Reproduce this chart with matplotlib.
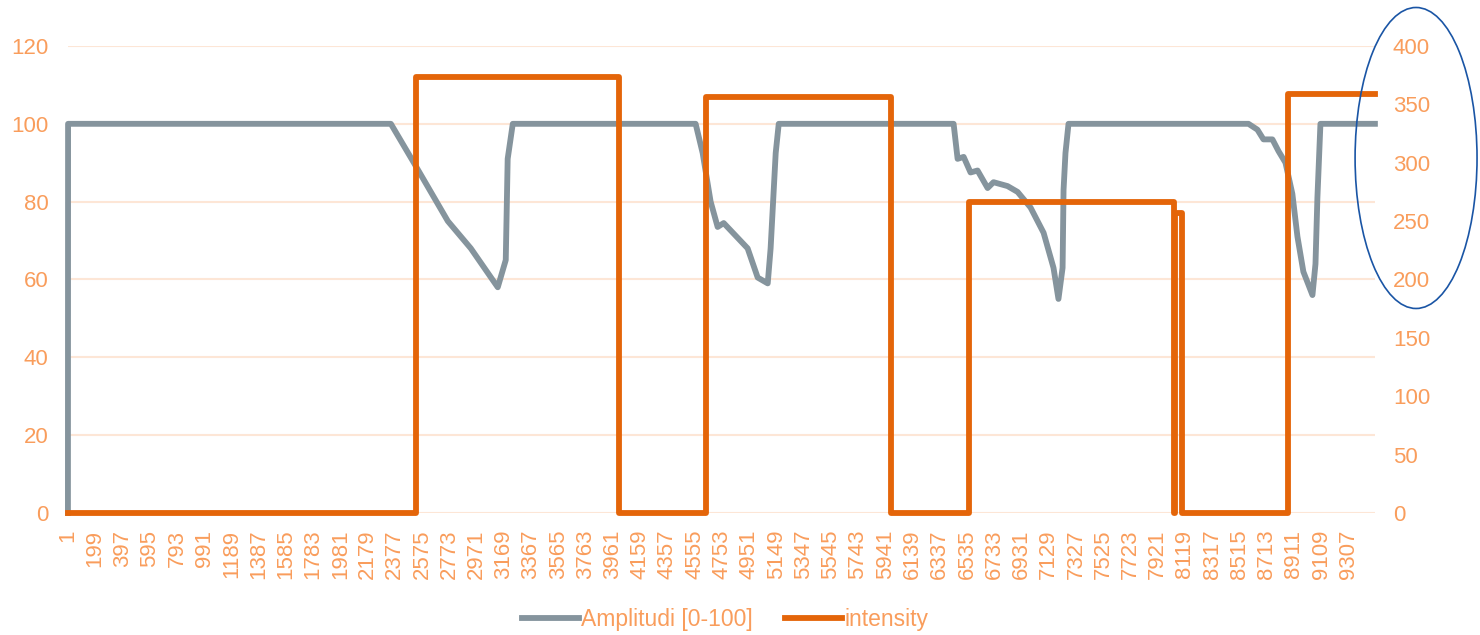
import matplotlib
matplotlib.use('Agg')
import matplotlib.pyplot as plt
import numpy as np
from matplotlib.patches import Ellipse

plt.rcParams['font.family'] = ['Liberation Sans', 'DejaVu Sans']

# sample index of the series (categories 1..9500)
n_points = 9500
tick_step = 198

# Amplitudi [0-100] - breakpoints
amp_x = [1, 2, 2348, 2515, 2762, 2929, 3125, 3183, 3197, 3234,
         4563, 4614, 4672, 4723, 4767, 4941, 5014, 5087, 5108, 5145, 5167,
         6438, 6467, 6511, 6561, 6612, 6685, 6728, 6830, 6903, 6997, 7092,
         7164, 7200, 7230, 7237, 7251, 7273,
         8581, 8646, 8690, 8755, 8799, 8850, 8900, 8937, 8980, 9046, 9068,
         9082, 9104, 9500]
amp_y = [0, 100, 100, 90, 75, 68, 58, 65, 91, 100,
         100, 92.5, 80, 73.5, 74.5, 68, 60.5, 59, 68, 92.5, 100,
         100, 91, 91.5, 87.5, 88, 83.5, 85, 84, 82.5, 78.5, 72,
         63, 55, 63, 83, 92.5, 100,
         100, 98.5, 96, 96, 93, 90, 82, 71, 62, 56, 64,
         81, 100, 100]

# intensity - step changes
int_x = [1, 2529, 4004, 4636, 5980, 6547, 8043, 8044, 8101, 8871, 9500]
int_y = [0, 373, 0, 356, 0, 266, 0, 257, 0, 359, 359]

grey = '#85949D'
orange = '#E46509'
label_col = '#F99D5C'
grid_col = '#FDE6D6'

fig = plt.figure(figsize=(14.8, 6.35), dpi=100)
ax = fig.add_axes([0.0459, 0.1921, 0.929 - 0.0459, 0.9276 - 0.1921])
ax2 = ax.twinx()

ax.plot(amp_x, amp_y, color=grey, lw=4.2, solid_joinstyle='round',
        clip_on=False, label='Amplitudi [0-100]', zorder=3)
ax2.plot(int_x, int_y, color=orange, lw=4.2, drawstyle='steps-post',
         solid_joinstyle='round', clip_on=False, label='intensity', zorder=3)

ax.set_xlim(1, n_points)
ax.set_ylim(0, 120)
ax2.set_ylim(0, 400)
ax.set_yticks(np.arange(0, 121, 20))
ax2.set_yticks(np.arange(0, 401, 50))
xt = np.arange(1, n_points, tick_step)
ax.set_xticks(xt)
ax.set_xticklabels([str(v) for v in xt], rotation=90)

ax.grid(axis='y', color=grid_col, lw=1.5)
ax.set_axisbelow(True)
for a in (ax, ax2):
    for s in a.spines.values():
        s.set_visible(False)
ax.tick_params(axis='both', length=0, labelsize=16, labelcolor=label_col)
ax.tick_params(axis='y', pad=14)
ax.tick_params(axis='x', pad=12)
ax2.tick_params(axis='y', length=0, labelsize=16, labelcolor=label_col, pad=13)

h1, l1 = ax.get_legend_handles_labels()
h2, l2 = ax2.get_legend_handles_labels()
leg = fig.legend(h1 + h2, l1 + l2, loc='center', bbox_to_anchor=(0.49, 0.024),
                 ncol=2, frameon=False, fontsize=16.5, handlelength=2.5,
                 handletextpad=0.1, columnspacing=1.4)
for t in leg.get_texts():
    t.set_color(label_col)

# blue ellipse around the right-hand axis labels
fig.patches.append(Ellipse((0.9568, 0.7512), 0.0824, 0.474,
                           transform=fig.transFigure, fill=False,
                           edgecolor='#1A55A5', lw=1.2))

fig.savefig('out.png', dpi=100)
